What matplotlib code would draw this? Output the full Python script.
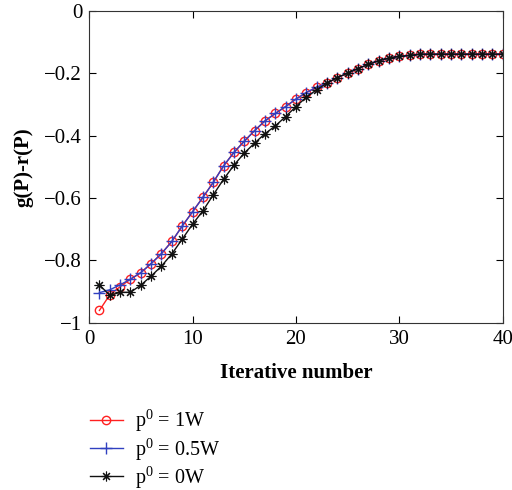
import matplotlib
matplotlib.use("Agg")
from matplotlib import pyplot as plt
from matplotlib.ticker import FuncFormatter

# Valores (iteracao 1..40)
iterations = list(range(1, 41))

p_1w = [-0.960, -0.910, -0.884, -0.860, -0.839, -0.810, -0.778, -0.739, -0.690, -0.644,
        -0.598, -0.550, -0.497, -0.454, -0.418, -0.384, -0.353, -0.329, -0.307, -0.283,
        -0.262, -0.245, -0.232, -0.214, -0.200, -0.185, -0.172, -0.160, -0.152, -0.146,
        -0.143, -0.139, -0.139, -0.139, -0.139, -0.139, -0.139, -0.139, -0.139, -0.139]

p_05w = [-0.903, -0.894, -0.878, -0.860, -0.839, -0.810, -0.778, -0.739, -0.690, -0.644,
         -0.598, -0.550, -0.497, -0.454, -0.418, -0.384, -0.353, -0.329, -0.307, -0.283,
         -0.262, -0.245, -0.232, -0.214, -0.200, -0.185, -0.172, -0.160, -0.152, -0.146,
         -0.143, -0.139, -0.139, -0.139, -0.139, -0.139, -0.139, -0.139, -0.139, -0.139]

p_0w = [-0.878, -0.912, -0.902, -0.902, -0.879, -0.850, -0.818, -0.779, -0.732, -0.684,
        -0.641, -0.590, -0.540, -0.495, -0.456, -0.424, -0.394, -0.369, -0.339, -0.307,
        -0.277, -0.253, -0.232, -0.214, -0.200, -0.185, -0.172, -0.160, -0.152, -0.146,
        -0.143, -0.139, -0.139, -0.139, -0.139, -0.139, -0.139, -0.139, -0.139, -0.139]

labels = [r"$\mathregular{p^0}$ = 1W", r"$\mathregular{p^0}$ = 0.5W", r"$\mathregular{p^0}$ = 0W"]
x_ticks = [0, 10, 20, 30, 40]
y_ticks = [-1, -0.8, -0.6, -0.4, -0.2, 0]

plt.rcParams["font.family"] = ["Liberation Serif", "DejaVu Serif"]
plt.rcParams["mathtext.fontset"] = "custom"
plt.rcParams["mathtext.rm"] = "Liberation Serif"
plt.rcParams["font.size"] = 15

fig = plt.figure(figsize=(5.12, 4.9), dpi=100)
ax = fig.add_axes([0.174, 0.341, 0.808, 0.637])

ax.plot(iterations, p_1w, color="#ff2020", marker="o", markersize=6, markerfacecolor="none",
        linewidth=1, label=labels[0])
ax.plot(iterations, p_05w, color="#3040c0", marker="+", markersize=8,
        linewidth=1, label=labels[1])
ax.plot(iterations, p_0w, color="#111111", marker=(8, 2, 0), markersize=7, markeredgewidth=0.8,
        linewidth=1, label=labels[2])

ax.set_xlim(0, 40)
ax.set_ylim(-1, 0)
ax.set_xticks(x_ticks)
ax.set_yticks(y_ticks)
ax.yaxis.set_major_formatter(FuncFormatter(lambda v, p: ("%g" % v).replace("-", "\u2212")))
ax.tick_params(direction="in", top=True, right=True, length=5, width=0.8, labelsize=15, pad=5)
for s in ax.spines.values():
    s.set_linewidth(0.8)
    s.set_color("#333333")

ax.set_xlabel("Iterative number", fontweight="bold", fontsize=15, labelpad=10)
ax.set_ylabel("g(P)-r(P)", fontweight="bold", fontsize=15, labelpad=8)

fig.legend(loc="upper left", bbox_to_anchor=(0.145, 0.2), frameon=False, fontsize=14.5,
           handlelength=1.6, handletextpad=0.6, labelspacing=0.1, borderpad=0.3)

plt.savefig("out.png", dpi=100)
plt.close()
